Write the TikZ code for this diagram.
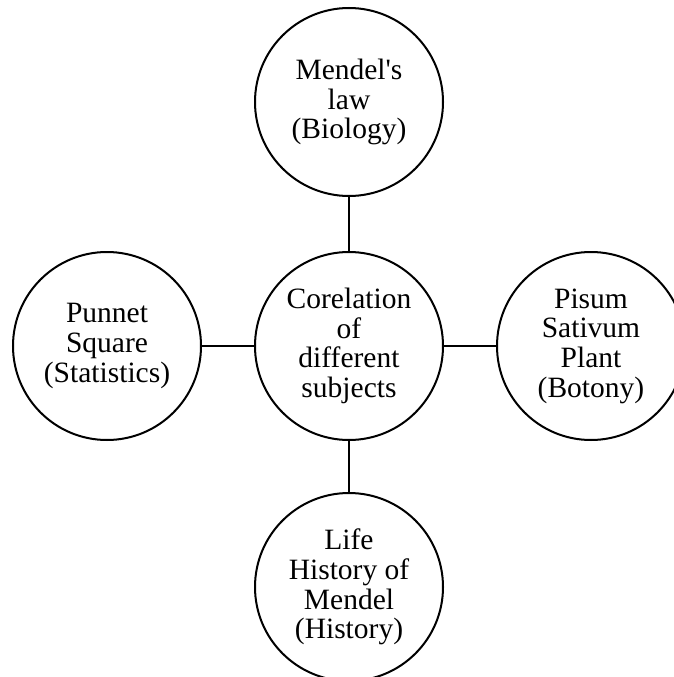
\documentclass[tikz,border=0pt]{standalone}
\usepackage{fontspec}
\setmainfont{Liberation Serif}
\begin{document}
\begin{tikzpicture}[x=1pt,y=1pt,
  subj/.style={circle,draw=black,line width=2pt,minimum size=188pt,inner sep=0pt,
    align=center,font=\fontsize{29.5}{29.7}\selectfont},
  link/.style={line width=2pt}]
\useasboundingbox (0,0) rectangle (674,-677);
\clip (0,0) rectangle (674,-677);
\fill[white] (0,0) rectangle (674,-677);
\node[subj] (ctr) at (349,-346) {Corelation\\of\\different\\subjects};
\node[subj] (top) at (349,-102) {Mendel\textquotesingle s\\law\\(Biology)};
\node[subj] (lft) at (107,-346) {Punnet\\Square\\(Statistics)};
\node[subj] (rgt) at (591,-346) {Pisum\\Sativum\\Plant\\(Botony)};
\node[subj] (bot) at (349,-587) {Life\\History of\\Mendel\\(History)};
\draw[link] (top) -- (ctr);
\draw[link] (bot) -- (ctr);
\draw[link] (lft) -- (ctr);
\draw[link] (rgt) -- (ctr);
\end{tikzpicture}
\end{document}
